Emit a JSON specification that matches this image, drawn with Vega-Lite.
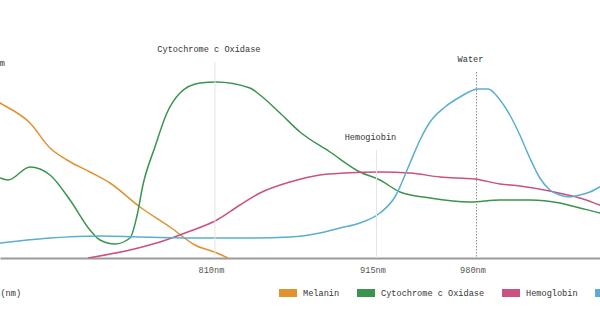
{
  "$schema": "https://vega.github.io/schema/vega-lite/v6.json",
  "autosize": {"type": "none"},
  "padding": {"left": 0, "top": 58, "right": 0, "bottom": 75},
  "width": 600,
  "height": 200,
  "background": "white",
  "config": {
    "view": {"stroke": null},
    "font": "Liberation Mono",
    "text": {"font": "Liberation Mono", "fontSize": 8.6, "color": "#333"}
  },
  "datasets": {
    "curveData": [
      {"series": "Melanin", "nm": 650, "v": 86},
      {"series": "Melanin", "nm": 670.3, "v": 77.5},
      {"series": "Melanin", "nm": 689.8, "v": 67.5},
      {"series": "Melanin", "nm": 702.8, "v": 55},
      {"series": "Melanin", "nm": 713.8, "v": 49},
      {"series": "Melanin", "nm": 728.8, "v": 43},
      {"series": "Melanin", "nm": 741.8, "v": 37.5},
      {"series": "Melanin", "nm": 761.3, "v": 25.5},
      {"series": "Melanin", "nm": 780.8, "v": 15.5},
      {"series": "Melanin", "nm": 797.0, "v": 6.5},
      {"series": "Melanin", "nm": 811.3, "v": 2.5},
      {"series": "Melanin", "nm": 818.5, "v": 0},

      {"series": "Cytochrome c Oxidase", "nm": 660.6, "v": 44},
      {"series": "Cytochrome c Oxidase", "nm": 670.3, "v": 40},
      {"series": "Cytochrome c Oxidase", "nm": 675.5, "v": 39},
      {"series": "Cytochrome c Oxidase", "nm": 689.8, "v": 45.5},
      {"series": "Cytochrome c Oxidase", "nm": 702.8, "v": 41.5},
      {"series": "Cytochrome c Oxidase", "nm": 715.8, "v": 29},
      {"series": "Cytochrome c Oxidase", "nm": 728.8, "v": 14},
      {"series": "Cytochrome c Oxidase", "nm": 735.3, "v": 9},
      {"series": "Cytochrome c Oxidase", "nm": 745.0, "v": 7},
      {"series": "Cytochrome c Oxidase", "nm": 754.8, "v": 10},
      {"series": "Cytochrome c Oxidase", "nm": 759.3, "v": 21},
      {"series": "Cytochrome c Oxidase", "nm": 763.2, "v": 36.5},
      {"series": "Cytochrome c Oxidase", "nm": 771.0, "v": 55.5},
      {"series": "Cytochrome c Oxidase", "nm": 778.8, "v": 72.5},
      {"series": "Cytochrome c Oxidase", "nm": 787.3, "v": 82.5},
      {"series": "Cytochrome c Oxidase", "nm": 800.3, "v": 87.5},
      {"series": "Cytochrome c Oxidase", "nm": 810.7, "v": 88},
      {"series": "Cytochrome c Oxidase", "nm": 832.8, "v": 85},
      {"series": "Cytochrome c Oxidase", "nm": 839.3, "v": 81.5},
      {"series": "Cytochrome c Oxidase", "nm": 852.3, "v": 72.5},
      {"series": "Cytochrome c Oxidase", "nm": 865.3, "v": 63},
      {"series": "Cytochrome c Oxidase", "nm": 884.8, "v": 53},
      {"series": "Cytochrome c Oxidase", "nm": 904.3, "v": 43},
      {"series": "Cytochrome c Oxidase", "nm": 917.3, "v": 39},
      {"series": "Cytochrome c Oxidase", "nm": 930.3, "v": 33},
      {"series": "Cytochrome c Oxidase", "nm": 949.8, "v": 30},
      {"series": "Cytochrome c Oxidase", "nm": 975.8, "v": 28},
      {"series": "Cytochrome c Oxidase", "nm": 995.3, "v": 29},
      {"series": "Cytochrome c Oxidase", "nm": 1014.7, "v": 29},
      {"series": "Cytochrome c Oxidase", "nm": 1034.2, "v": 27.5},
      {"series": "Cytochrome c Oxidase", "nm": 1047.2, "v": 25},
      {"series": "Cytochrome c Oxidase", "nm": 1060.2, "v": 22.5},
      {"series": "Cytochrome c Oxidase", "nm": 1073.2, "v": 19.5},

      {"series": "Hemoglobin", "nm": 727.5, "v": 0},
      {"series": "Hemoglobin", "nm": 754.8, "v": 4},
      {"series": "Hemoglobin", "nm": 774.3, "v": 8},
      {"series": "Hemoglobin", "nm": 790.5, "v": 12.5},
      {"series": "Hemoglobin", "nm": 811.3, "v": 19},
      {"series": "Hemoglobin", "nm": 826.3, "v": 26.5},
      {"series": "Hemoglobin", "nm": 839.3, "v": 32.5},
      {"series": "Hemoglobin", "nm": 858.8, "v": 38},
      {"series": "Hemoglobin", "nm": 878.2, "v": 41.5},
      {"series": "Hemoglobin", "nm": 894.5, "v": 42.5},
      {"series": "Hemoglobin", "nm": 917.3, "v": 43},
      {"series": "Hemoglobin", "nm": 936.8, "v": 42.5},
      {"series": "Hemoglobin", "nm": 956.3, "v": 40.5},
      {"series": "Hemoglobin", "nm": 979.0, "v": 39.5},
      {"series": "Hemoglobin", "nm": 995.3, "v": 37},
      {"series": "Hemoglobin", "nm": 1008.2, "v": 36},
      {"series": "Hemoglobin", "nm": 1027.7, "v": 33.5},
      {"series": "Hemoglobin", "nm": 1047.2, "v": 30},
      {"series": "Hemoglobin", "nm": 1060.2, "v": 26.5},
      {"series": "Hemoglobin", "nm": 1073.2, "v": 23},

      {"series": "Water", "nm": 657.3, "v": 6.5},
      {"series": "Water", "nm": 670.3, "v": 7.5},
      {"series": "Water", "nm": 702.8, "v": 10},
      {"series": "Water", "nm": 735.3, "v": 11},
      {"series": "Water", "nm": 761.3, "v": 10.5},
      {"series": "Water", "nm": 800.3, "v": 10},
      {"series": "Water", "nm": 832.8, "v": 10},
      {"series": "Water", "nm": 858.8, "v": 10.5},
      {"series": "Water", "nm": 878.2, "v": 12.5},
      {"series": "Water", "nm": 891.3, "v": 15},
      {"series": "Water", "nm": 904.3, "v": 17.5},
      {"series": "Water", "nm": 917.3, "v": 22.5},
      {"series": "Water", "nm": 927.0, "v": 30.5},
      {"series": "Water", "nm": 936.8, "v": 47.5},
      {"series": "Water", "nm": 943.3, "v": 59},
      {"series": "Water", "nm": 949.8, "v": 68},
      {"series": "Water", "nm": 959.5, "v": 75.5},
      {"series": "Water", "nm": 969.3, "v": 80.5},
      {"series": "Water", "nm": 981.0, "v": 84.5},
      {"series": "Water", "nm": 987.5, "v": 84.5},
      {"series": "Water", "nm": 995.3, "v": 79},
      {"series": "Water", "nm": 1001.7, "v": 71.5},
      {"series": "Water", "nm": 1008.2, "v": 61.5},
      {"series": "Water", "nm": 1014.7, "v": 50},
      {"series": "Water", "nm": 1021.2, "v": 40},
      {"series": "Water", "nm": 1027.7, "v": 34},
      {"series": "Water", "nm": 1034.2, "v": 31.5},
      {"series": "Water", "nm": 1040.7, "v": 30.5},
      {"series": "Water", "nm": 1047.2, "v": 31.5},
      {"series": "Water", "nm": 1053.7, "v": 33},
      {"series": "Water", "nm": 1060.2, "v": 35.5},
      {"series": "Water", "nm": 1073.2, "v": 40}
    ],
    "peakLabels": [
      {"label": "Cytochrome c Oxidase", "nm": 810, "top": 98},
      {"label": "Hemogiobin", "nm": 915, "top": 54},
      {"label": "Water", "nm": 980, "top": 93}
    ],
    "peakSolid": [
      {"nm": 810, "top": 98, "base": 0},
      {"nm": 915, "top": 54, "base": 0}
    ],
    "peakDotted": [
      {"nm": 980, "top": 93, "base": 0}
    ],
    "noteData": [
      {"text": "Absorption Spectrum", "nm": 673.5, "v": 97.5},
      {"text": "Wavelength(nm)", "nm": 684, "v": -17.5}
    ]
  },
  "layer": [
    {
      "data": {"name": "curveData"},
      "mark": {"type": "line", "interpolate": "monotone", "strokeWidth": 1.5, "clip": true},
      "encoding": {
        "x": {
          "field": "nm", "type": "quantitative",
          "scale": {"domain": [670.3, 1060.3], "nice": false, "zero": false},
          "axis": {
            "values": [810, 915, 980],
            "labelExpr": "datum.value + 'nm'",
            "title": null,
            "ticks": false,
            "grid": false,
            "domainColor": "#9a9a9a",
            "domainWidth": 2,
            "labelFont": "Liberation Mono",
            "labelFontSize": 8.6,
            "labelColor": "#555",
            "labelPadding": 7,
            "labelOffset": -4
          }
        },
        "y": {"field": "v", "type": "quantitative", "axis": null, "scale": {"domain": [0, 100], "nice": false}},
        "color": {
          "field": "series", "type": "nominal",
          "scale": {
            "domain": ["Melanin", "Cytochrome c Oxidase", "Hemoglobin", "Water"],
            "range": ["#e0922e", "#3a9450", "#cc5080", "#5aaed0"]
          },
          "legend": {
            "title": null,
            "orient": "none",
            "direction": "horizontal",
            "legendX": 275,
            "legendY": 222,
            "padding": 0,
            "symbolType": "stroke",
            "symbolSize": 324,
            "symbolStrokeWidth": 8,
            "labelFont": "Liberation Mono",
            "labelFontSize": 8.6,
            "labelColor": "#333",
            "labelOffset": 2,
            "columnPadding": 1
          }
        }
      }
    },
    {
      "data": {"name": "peakLabels"},
      "mark": {"type": "text", "baseline": "middle", "align": "center", "dx": -6, "dy": -13},
      "encoding": {
        "x": {"field": "nm", "type": "quantitative"},
        "y": {"field": "top", "type": "quantitative"},
        "text": {"field": "label"}
      }
    },
    {
      "data": {"name": "peakSolid"},
      "mark": {"type": "rule", "color": "#e6e6e6", "strokeWidth": 1},
      "encoding": {
        "x": {"field": "nm", "type": "quantitative"},
        "y": {"field": "top", "type": "quantitative"},
        "y2": {"field": "base"}
      }
    },
    {
      "data": {"name": "peakDotted"},
      "mark": {"type": "rule", "color": "#8c8c8c", "strokeWidth": 1, "strokeDash": [1.5, 1.5]},
      "encoding": {
        "x": {"field": "nm", "type": "quantitative"},
        "y": {"field": "top", "type": "quantitative"},
        "y2": {"field": "base"}
      }
    },
    {
      "data": {"name": "noteData"},
      "mark": {"type": "text", "align": "right", "baseline": "middle"},
      "encoding": {
        "x": {"field": "nm", "type": "quantitative"},
        "y": {"field": "v", "type": "quantitative"},
        "text": {"field": "text"}
      }
    }
  ]
}
